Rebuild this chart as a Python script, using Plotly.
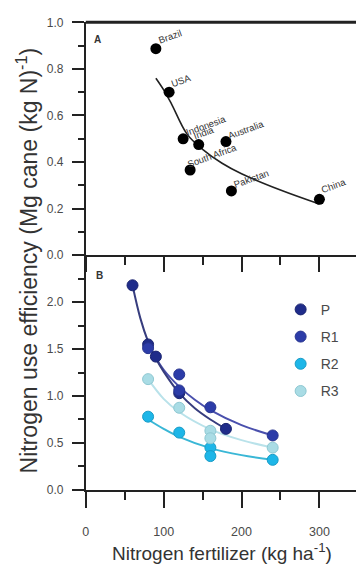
import plotly.graph_objects as go
from plotly.subplots import make_subplots

# ---------------- Panel A data ----------------
countries = ["Brazil", "USA", "Indonesia", "India", "Australia", "South Africa", "Pakistan", "China"]
a_n_fert = [90, 107, 125, 145, 180, 134, 187, 300]
a_nue = [0.887, 0.70, 0.50, 0.475, 0.488, 0.366, 0.276, 0.24]
# fitted curve
a_fit_x = [90, 100, 110, 130, 150, 175, 200, 250, 300]
a_fit_y = [0.76, 0.71, 0.65, 0.52, 0.455, 0.395, 0.35, 0.28, 0.22]

# ---------------- Panel B data ----------------
b_series = ["P", "R1", "R2", "R3"]
p_x = [60, 80, 90, 120, 180]
p_y = [2.18, 1.55, 1.42, 1.03, 0.65]
r1_x = [80, 120, 120, 160, 240]
r1_y = [1.51, 1.23, 1.06, 0.88, 0.58]
r2_x = [80, 120, 160, 160, 240]
r2_y = [0.78, 0.61, 0.45, 0.36, 0.32]
r3_x = [80, 120, 160, 160, 240]
r3_y = [1.18, 0.875, 0.63, 0.55, 0.45]
# fitted curves
p_fit_x = [60, 70, 80, 90, 100, 120, 140, 160, 180]
p_fit_y = [2.18, 1.83, 1.58, 1.40, 1.26, 1.03, 0.87, 0.75, 0.65]
r1_fit_x = [80, 100, 120, 140, 160, 200, 240]
r1_fit_y = [1.55, 1.28, 1.10, 0.96, 0.85, 0.69, 0.58]
r2_fit_x = [80, 100, 120, 160, 200, 240]
r2_fit_y = [0.75, 0.65, 0.565, 0.445, 0.37, 0.32]
r3_fit_x = [80, 100, 120, 160, 200, 240]
r3_fit_y = [1.18, 0.97, 0.83, 0.645, 0.53, 0.45]

x_ticks = [0, 100, 200, 300]
a_y_ticks = [0.0, 0.2, 0.4, 0.6, 0.8, 1.0]
b_y_ticks = [0.0, 0.5, 1.0, 1.5, 2.0]

W, H = 356, 571
FONT = "Liberation Sans, Arial, sans-serif"
AX = "#222222"
TXT = "#4a4a4a"

marker_col = {"P": "#1f2c8a", "R1": "#2c3ca8", "R2": "#1db6e8", "R3": "#a9dce5"}
marker_edge = {"P": "#1a2470", "R1": "#27348f", "R2": "#1a9cc6", "R3": "#8ec8d2"}
line_col = {"P": "#373d7e", "R1": "#4a50ad", "R2": "#3ab7d6", "R3": "#b9e2ea"}

def fy(px):
    return 1 - px / H

fig = make_subplots(rows=2, cols=1, shared_xaxes=False, vertical_spacing=0)

# Panel A
fig.add_trace(go.Scatter(x=a_fit_x, y=a_fit_y, mode="lines", line=dict(color="#222", width=1.6, shape="spline"),
                         showlegend=False, hoverinfo="skip"), row=1, col=1)
fig.add_trace(go.Scatter(x=a_n_fert, y=a_nue, mode="markers", marker=dict(color="#000", size=11),
                         showlegend=False, text=countries), row=1, col=1)

label_off = {
    "Brazil": (14, 12.5), "USA": (12, 11.5), "Indonesia": (22.5, 13.5), "India": (5, 12.5),
    "Australia": (20, 12.5), "South Africa": (22, 15), "Pakistan": (20, 12.5), "China": (14.5, 13.5),
}
for name, xv, yv in zip(countries, a_n_fert, a_nue):
    dx, dy = label_off[name]
    fig.add_annotation(x=xv, y=yv, xref="x", yref="y", text=name, showarrow=False,
                       xshift=dx, yshift=dy, textangle=-20, xanchor="center", yanchor="middle",
                       font=dict(family=FONT, size=9.5, color="#333"))

# Panel B
series = {
    "P": (p_x, p_y, p_fit_x, p_fit_y),
    "R1": (r1_x, r1_y, r1_fit_x, r1_fit_y),
    "R2": (r2_x, r2_y, r2_fit_x, r2_fit_y),
    "R3": (r3_x, r3_y, r3_fit_x, r3_fit_y),
}
for name in ["R3", "R2", "R1", "P"]:
    xs, ys, fx, fyv = series[name]
    fig.add_trace(go.Scatter(x=fx, y=fyv, mode="lines", line=dict(color=line_col[name], width=2, shape="spline"),
                             showlegend=False, hoverinfo="skip"), row=2, col=1)
for name in b_series:
    xs, ys, fx, fyv = series[name]
    fig.add_trace(go.Scatter(x=xs, y=ys, mode="markers", name=name, legendgroup=name,
                             marker=dict(color=marker_col[name], size=11,
                                         line=dict(color=marker_edge[name], width=1))),
                  row=2, col=1)

top_A, bot_A = 15.7, 254.5
top_B, bot_B = 254.5, 495
x_left = 83.5

common_x = dict(range=[0, 347], showline=True, linecolor=AX, linewidth=2, zeroline=False, showgrid=False,
                ticks="outside", tickcolor=AX, tickwidth=2, dtick=100, tick0=0,
                minor=dict(dtick=50, ticks="outside", ticklen=8, tickcolor=AX, tickwidth=2),
                domain=[x_left / W, 1.0])
fig.update_layout(
    xaxis=dict(common_x, ticklen=15, showticklabels=False, mirror=False, anchor="y"),
    xaxis2=dict(common_x, ticklen=16, showticklabels=True, tickvals=x_ticks,
                tickfont=dict(family=FONT, size=12.5, color=TXT), ticklabelstandoff=13, anchor="y2"),
    yaxis=dict(range=[0, 1.0], domain=[fy(bot_A), fy(top_A)], showline=True, linecolor=AX, linewidth=2,
               zeroline=False, showgrid=False, ticks="outside", ticklen=12, tickwidth=2, tickcolor=AX,
               tickvals=a_y_ticks, tickformat=".1f", tickfont=dict(family=FONT, size=12, color=TXT),
               ticklabelstandoff=6,
               minor=dict(dtick=0.1, ticks="outside", ticklen=6, tickcolor=AX, tickwidth=2), anchor="x"),
    yaxis2=dict(range=[0, 2.5], domain=[fy(bot_B), fy(top_B)], showline=True, linecolor=AX, linewidth=2,
                zeroline=False, showgrid=False, ticks="outside", ticklen=12, tickwidth=2, tickcolor=AX,
                tickvals=b_y_ticks, tickformat=".1f", tickfont=dict(family=FONT, size=12, color=TXT),
                ticklabelstandoff=6,
                minor=dict(dtick=0.25, tick0=0, ticks="outside", ticklen=6, tickcolor=AX, tickwidth=2),
                anchor="x2"),
    width=W, height=H, margin=dict(l=0, r=0, t=0, b=0),
    paper_bgcolor="white", plot_bgcolor="white",
    showlegend=True,
    legend=dict(x=(280) / W, y=fy(294), xanchor="left", yanchor="top", bgcolor="rgba(0,0,0,0)",
                font=dict(family=FONT, size=14, color=TXT), tracegroupgap=6, itemwidth=30),
)

# top border of panel A (thick)
fig.add_shape(type="line", xref="paper", yref="paper", x0=x_left / W, x1=1, y0=fy(top_A), y1=fy(top_A),
              line=dict(color=AX, width=3))

# panel letters
fig.add_annotation(xref="paper", yref="paper", x=95 / W, y=fy(33), text="<b>A</b>", showarrow=False,
                   xanchor="center", yanchor="middle", font=dict(family=FONT, size=10, color="#333"))
fig.add_annotation(xref="paper", yref="paper", x=97 / W, y=fy(275), text="<b>B</b>", showarrow=False,
                   xanchor="center", yanchor="middle", font=dict(family=FONT, size=10, color="#333"))

# axis titles
fig.add_annotation(xref="paper", yref="paper", x=24 / W, y=fy(260),
                   text="Nitrogen use efficiency (Mg cane (kg N)<sup>-1</sup>)", textangle=-90, showarrow=False,
                   xanchor="center", yanchor="middle",
                   font=dict(family=FONT, size=23, color="#333"))
fig.add_annotation(xref="paper", yref="paper", x=221 / W, y=fy(559),
                   text="Nitrogen fertilizer (kg ha<sup>-1</sup>)", showarrow=False,
                   xanchor="center", yanchor="middle",
                   font=dict(family=FONT, size=19, color="#333"))

fig.write_html("out.html")
